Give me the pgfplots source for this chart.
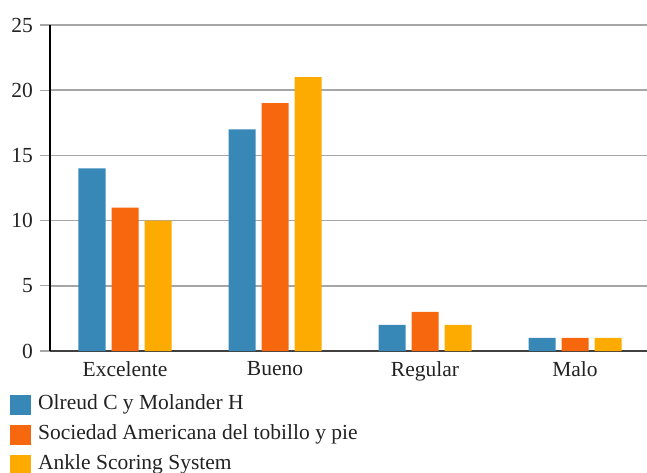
\documentclass[border=0pt]{standalone}
\usepackage{fontspec}
\setmainfont{LiberationSerif-Regular.ttf}
\usepackage{pgfplots}
\pgfplotsset{compat=1.18}
\definecolor{cblue}{RGB}{56,136,183}
\definecolor{corange}{RGB}{247,104,14}
\definecolor{cyellow}{RGB}{253,171,0}
\definecolor{gridgray}{RGB}{166,166,166}
\definecolor{txt}{RGB}{34,34,34}
\begin{document}
\fontsize{21bp}{25bp}\selectfont
\begin{tikzpicture}
\begin{axis}[
  name=ax,
  scale only axis,
  width=597bp, height=326bp,
  xmin=-0.5, xmax=3.48,
  ymin=0, ymax=25,
  ytick={0,5,10,15,20,25},
  xtick={0,1,2,3},
  xticklabels={Excelente,Bueno,Regular,Malo},
  x tick style={draw=none},
  y tick style={draw=gridgray, line width=1.3bp},
  tick align=outside,
  major tick length=10bp,
  axis x line*=bottom,
  axis y line*=left,
  x axis line style={draw=black!75, line width=1.6bp, -},
  y axis line style={draw=black, line width=1.2bp, -},
  ymajorgrids,
  major grid style={draw=gridgray, line width=1.5bp},
  ybar=6bp,
  bar width=27bp,
  /pgf/number format/assume math mode=true,
  tick label style={text=txt, font=\fontsize{21.5bp}{25bp}\selectfont},
  yticklabel style={xshift=0bp},
  xticklabel style={yshift=7bp},
  legend cell align=left,
  legend style={
    at={(axis description cs:-0.067,-0.133)}, anchor=north west,
    draw=none, fill=none, inner sep=0pt,
    row sep=10bp, column sep=7bp,
    nodes={inner sep=0pt, text height=14bp, text depth=5bp, text=txt, font=\fontsize{21.5bp}{25bp}\selectfont},
  },
  legend image code/.code={\fill[#1] (0bp,-10bp) rectangle (21bp,10bp);},
]
\addplot[fill=cblue, draw=none] coordinates {(0,14) (1,17) (2,2) (3,1)};
\addplot[fill=corange, draw=none] coordinates {(0,11) (1,19) (2,3) (3,1)};
\addplot[fill=cyellow, draw=none] coordinates {(0,10) (1,21) (2,2) (3,1)};
\legend{Olreud C y Molander H, Sociedad Americana del tobillo y pie, Ankle Scoring System}
\end{axis}
\pgfresetboundingbox
\path ([xshift=-50bp,yshift=-122bp]ax.south west) rectangle ([yshift=25bp]ax.north east);
\end{tikzpicture}
\end{document}
